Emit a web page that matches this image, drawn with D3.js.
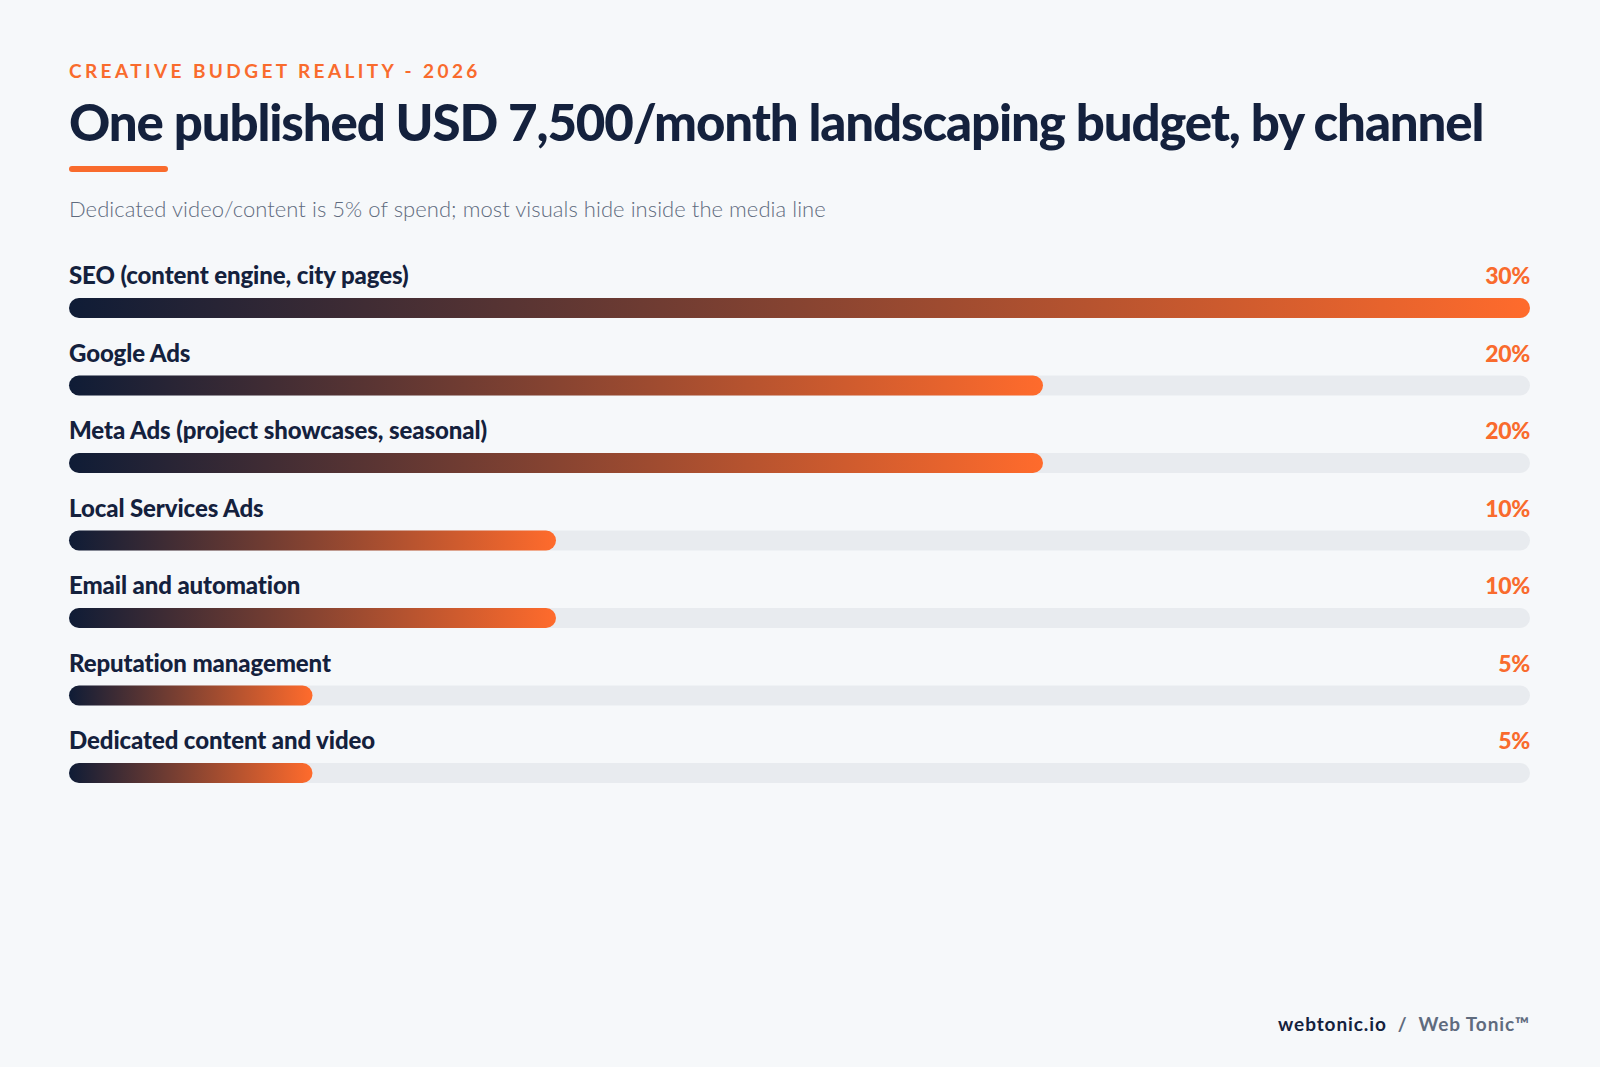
<!DOCTYPE html>
<html><head><meta charset="utf-8">
<script src="https://cdn.jsdelivr.net/npm/d3@7"></script>
<style>body{margin:0;background:#f6f8fa}svg{display:block;font-family:Lato,"Noto Sans",sans-serif}</style>
</head><body><svg width="1600" height="1067"></svg>
<script>
var channels = ['SEO (content engine, city pages)', 'Google Ads', 'Meta Ads (project showcases, seasonal)',
  'Local Services Ads', 'Email and automation', 'Reputation management', 'Dedicated content and video']
var shares = [30, 20, 20, 10, 10, 5, 5]

var svg = d3.select('svg')
  , left = 69, right = 1530
  , navy = '#14213d', orange = '#f96b2d'

svg.append('rect').attr('width', 1600).attr('height', 1067).attr('fill', '#f6f8fa')

svg.append('text').attr('x', left).attr('y', 78).attr('fill', orange)
  .attr('font-size', 19).attr('font-weight', 700).attr('letter-spacing', 3.4)
  .text('CREATIVE BUDGET REALITY - 2026')
svg.append('text').attr('x', left).attr('y', 141).attr('fill', navy)
  .attr('font-size', 51).attr('font-weight', 900).attr('letter-spacing', -1.15)
  .text('One published USD 7,500/month landscaping budget, by channel')
svg.append('rect').attr('x', left).attr('y', 166).attr('width', 99).attr('height', 6).attr('rx', 3).attr('fill', orange)
svg.append('text').attr('x', left).attr('y', 217).attr('fill', '#5f6b7e')
  .attr('font-size', 22).attr('font-weight', 300).attr('letter-spacing', 0.05)
  .text('Dedicated video/content is 5% of spend; most visuals hide inside the media line')

var x = d3.scaleLinear().domain([0, 30]).range([left, right])
var y = d3.scaleBand().domain(channels).range([260, 260 + 77.5 * channels.length])

var defs = svg.append('defs')
var row = svg.selectAll('g.row').data(channels).enter().append('g').attr('class', 'row')
  .attr('transform', function (d) { return 'translate(0,' + y(d) + ')' })

row.each(function (d, i) {
  var g = defs.append('linearGradient').attr('id', 'g' + i)
    .attr('gradientUnits', 'userSpaceOnUse').attr('x1', left).attr('x2', x(shares[i]))
  g.append('stop').attr('offset', 0).attr('stop-color', '#0f1c36')
  g.append('stop').attr('offset', 1).attr('stop-color', '#ff6b2c')
})

row.append('text').attr('x', left).attr('y', 24).attr('fill', navy)
  .attr('font-size', 24).attr('font-weight', 900).attr('letter-spacing', -0.1).text(function (d) { return d })
row.append('text').attr('x', right).attr('y', 24).attr('text-anchor', 'end').attr('fill', orange)
  .attr('font-size', 23).attr('font-weight', 900).attr('letter-spacing', -0.3).text(function (d, i) { return shares[i] + '%' })
row.append('rect').attr('x', left).attr('y', 38).attr('height', 20).attr('rx', 10)
  .attr('width', right - left).attr('fill', '#e8ebef')
row.append('rect').attr('x', left).attr('y', 38).attr('height', 20).attr('rx', 10)
  .attr('width', function (d, i) { return x(shares[i]) - left })
  .attr('fill', function (d, i) { return 'url(#g' + i + ')' })

var foot = svg.append('text').attr('x', right).attr('y', 1031).attr('text-anchor', 'end')
  .attr('font-size', 19).attr('font-weight', 700).attr('letter-spacing', 0.9)
  .attr('xml:space', 'preserve').style('white-space', 'pre')
foot.append('tspan').attr('fill', navy).text('webtonic.io')
foot.append('tspan').attr('fill', '#5f6b7e').text('  /  Web Tonic™')
</script></body></html>
